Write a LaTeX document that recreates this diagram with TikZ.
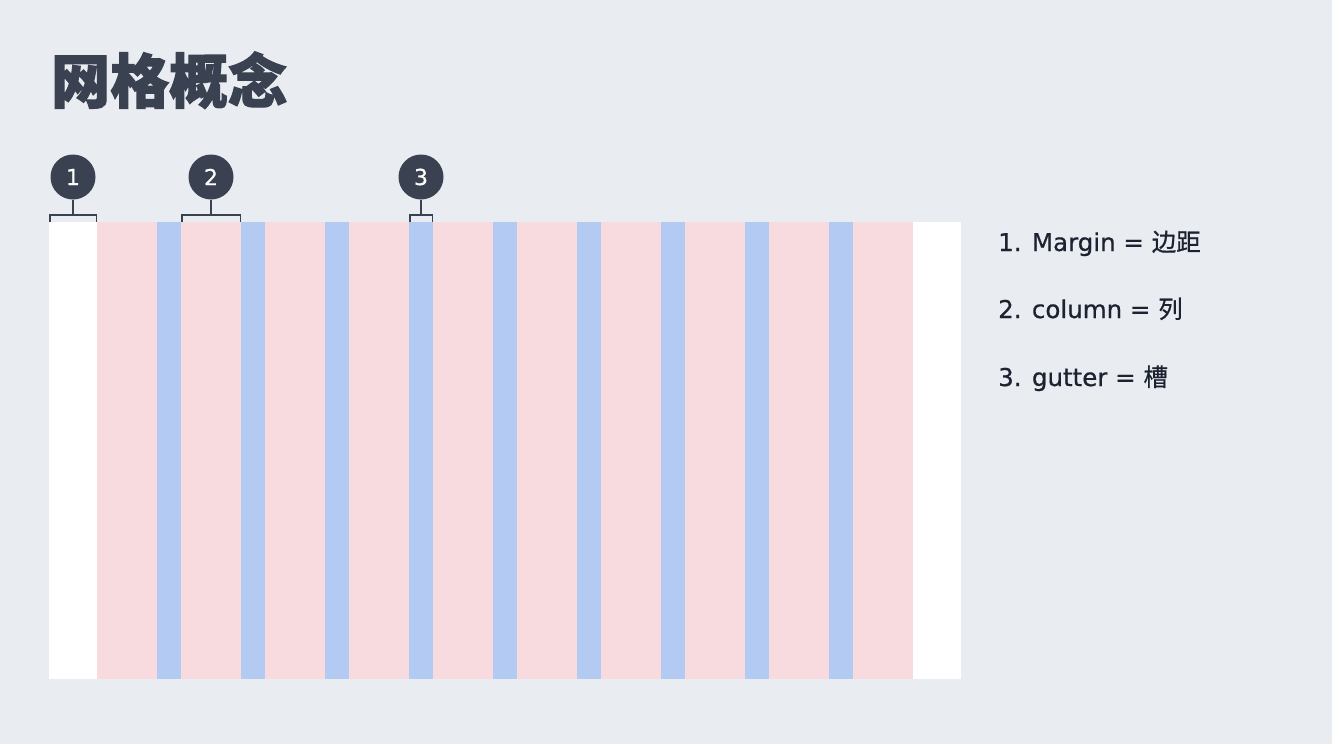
\documentclass[tikz,border=0pt]{standalone}
\usepackage{fontspec}
\setmainfont{DejaVu Sans}
\newfontfamily\legfont[FakeBold=0.6]{DejaVu Sans}
\newfontfamily\cjk[FakeBold=0.6]{Noto Sans CJK SC}
\newfontfamily\cjkt[BoldFeatures={FakeBold=2}]{Noto Sans CJK SC}
\definecolor{bg}{HTML}{E9ECF1}
\definecolor{ink}{HTML}{3A4150}
\definecolor{txt}{HTML}{1C2230}
\definecolor{colpink}{HTML}{F8DBDE}
\definecolor{gutblue}{HTML}{B3CAF2}
\tikzset{
  badge/.style={circle,fill=ink,minimum size=45pt,inner sep=0pt,text=white,font=\legfont\fontsize{22}{22}\selectfont},
  bracket/.style={draw=ink,line width=1.5pt},
  legend/.style={anchor=base west,inner sep=0pt,text=txt,font=\legfont\fontsize{24.5}{26}\selectfont},
}
\begin{document}
\begin{tikzpicture}[x=1pt,y=-1pt]
\useasboundingbox (0,0) rectangle (1332,744);
\fill[bg] (0,0) rectangle (1332,744);
% title
\node[anchor=base west,inner sep=0pt,text=ink,font=\cjkt\bfseries\fontsize{59}{60}\selectfont] (title) at (51,103) {网格概念};
% grid
\fill[white] (49,222) rectangle (961,679);
\fill[colpink] (97,222) rectangle (913,679);
\foreach \i in {0,...,8} {
  \fill[gutblue] ({157+84*\i},222) rectangle ({181+84*\i},679);
}
% badges
\node[badge] (c1) at (73,177) {1};
\node[badge] (c2) at (211,177) {2};
\node[badge] (c3) at (421,177) {3};
% brackets
\coordinate (b1) at (73,215);
\coordinate (b2) at (211,215);
\coordinate (b3) at (421,215);
\draw[bracket] (c1.south) -- (b1);
\draw[bracket] (c2.south) -- (b2);
\draw[bracket] (c3.south) -- (b3);
\draw[bracket] (50,222) |- (96.5,215) -- (96.5,222);
\draw[bracket] (182,222) |- (240.5,215) -- (240.5,222);
\draw[bracket] (410,222) |- (432.5,215) -- (432.5,222);
% legend
\node[legend] (l1) at (998,251) {1. Margin = {\cjk 边距}};
\node[legend] (l2) at (998,318) {2. column = {\cjk 列}};
\node[legend] (l3) at (998,386) {3. gutter = {\cjk 槽}};
\end{tikzpicture}
\end{document}
